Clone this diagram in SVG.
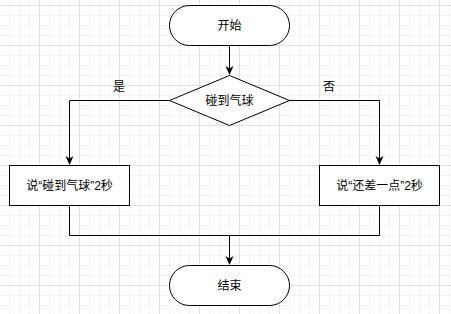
<svg xmlns="http://www.w3.org/2000/svg" width="451" height="314" viewBox="0 0 451 314">
<defs>
<pattern id="minor" patternUnits="userSpaceOnUse" x="9" y="5" width="10" height="10">
<path d="M0.5 0V10M0 0.5H10" stroke="#f3f3f3" stroke-width="1" fill="none"/>
</pattern>
<pattern id="major" patternUnits="userSpaceOnUse" x="39" y="5" width="40" height="40">
<path d="M0.5 0V40M0 0.5H40" stroke="#e0e0e0" stroke-width="1" fill="none"/>
</pattern>
<marker id="arr" markerWidth="10" markerHeight="10" refX="8" refY="5" orient="auto" markerUnits="userSpaceOnUse">
<path d="M0 1 L9 5 L0 9 L2.5 5 Z" fill="#000"/>
</marker>
<style>
.shape{fill:#fff;stroke:#000;stroke-width:1}
.lbl{font-family:"Liberation Sans","Noto Sans CJK SC",sans-serif;font-size:12px;fill:#000;text-anchor:middle;dominant-baseline:central}
.conn{fill:none;stroke:#000;stroke-width:1}
</style>
</defs>
<rect width="451" height="314" fill="#fff"/>
<rect width="451" height="314" fill="url(#minor)"/>
<rect width="451" height="314" fill="url(#major)"/>
<g id="connectors">
<path class="conn" d="M229.5 45V74" marker-end="url(#arr)"/>
<path class="conn" d="M169 100.5H69.5V164" marker-end="url(#arr)"/>
<path class="conn" d="M289 100.5H379.5V164" marker-end="url(#arr)"/>
<path class="conn" d="M69.5 205V235.5H379.5V205"/>
<path class="conn" d="M229.5 235.5V264" marker-end="url(#arr)"/>
<text class="lbl" x="119" y="87">是</text>
<text class="lbl" x="329" y="87">否</text>
</g>
<g id="start">
<rect class="shape" x="169.5" y="5.5" width="120" height="40" rx="20" ry="20"/>
<text class="lbl" x="229.5" y="25.5">开始</text>
</g>
<g id="decision">
<polygon class="shape" points="229.5,75.5 289.5,100.5 229.5,125.5 169.5,100.5"/>
<text class="lbl" x="229.5" y="100.5">碰到气球</text>
</g>
<g id="left">
<rect class="shape" x="9.5" y="165.5" width="120" height="40"/>
<text class="lbl" x="69.5" y="185.5">说“碰到气球”2秒</text>
</g>
<g id="right">
<rect class="shape" x="319.5" y="165.5" width="120" height="40"/>
<text class="lbl" x="379.5" y="185.5">说“还差一点”2秒</text>
</g>
<g id="end">
<rect class="shape" x="169.5" y="265.5" width="120" height="40" rx="20" ry="20"/>
<text class="lbl" x="229.5" y="285.5">结束</text>
</g>
</svg>
